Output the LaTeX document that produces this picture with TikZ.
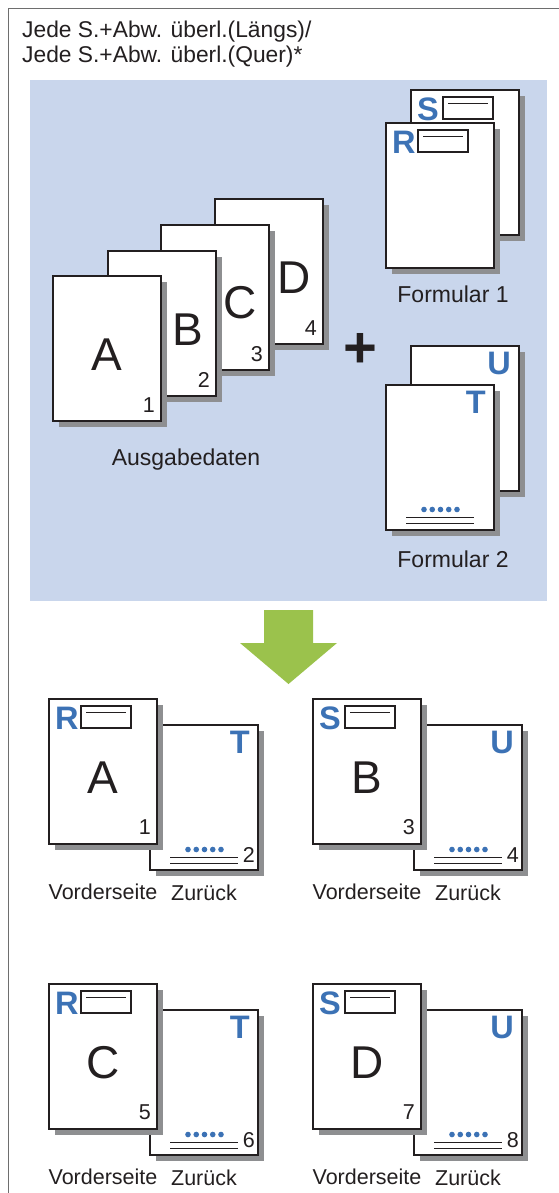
\documentclass[tikz,border=0pt]{standalone}
\usepackage{fontspec}
\setmainfont{Liberation Sans}
\usetikzlibrary{calc,shadows}
\definecolor{panel}{HTML}{C9D6EC}
\definecolor{ink}{HTML}{231F20}
\definecolor{shade}{HTML}{8E8F91}
\definecolor{formblue}{HTML}{3C72B5}
\definecolor{arrowgreen}{HTML}{9BC24C}
\definecolor{framegray}{HTML}{6E6E6E}
\newcommand\lblsize{\fontsize{21.5}{25}\selectfont}
\newcommand\titlesize{\fontsize{22.8}{25}\selectfont}
\newcommand\panelsize{\fontsize{23}{25}\selectfont}
\newcommand\bigsize{\fontsize{46}{50}\selectfont}
\newcommand\blusize{\fontsize{32.5}{36}\selectfont\bfseries}
\tikzset{
  sheet/.style={draw=ink, line width=2pt, fill=white, minimum width=108pt,
    minimum height=145pt, inner sep=0pt, outer sep=0pt, anchor=north west,
    general shadow={fill=shade, shadow xshift=6pt, shadow yshift=-6pt}},
  lbl/.style={font=\lblsize, text=ink, inner sep=0pt},
  bigletter/.style={font=\bigsize, text=ink, inner sep=0pt},
  numtext/.style={font=\lblsize, text=ink, inner sep=0pt, anchor=south east},
  blueletter/.style={font=\blusize, text=formblue, inner sep=0pt},
  hbox/.style={draw=ink, line width=2pt, fill=white, minimum width=50pt,
    minimum height=22pt, inner sep=0pt, outer sep=0pt, anchor=north west},
  thinline/.style={draw=ink, line width=1.6pt},
}
% header (letter + box) on a form page
\newcommand\formhead[2]{%
  \node[blueletter, anchor=north west] (#1-l) at ($(#1.north west)+(6,8)$) {#2};
  \node[hbox] (#1-b) at ($(#1.north west)+(32,7)$) {};
  \draw[thinline] ($(#1-b.north west)+(5,6.5)$) -- ($(#1-b.north east)+(-5,6.5)$);
}
% footer (letter top right + dots + lines)
\newcommand\formfoot[2]{%
  \node[blueletter, anchor=north east] (#1-l) at ($(#1.north east)+(-8,6)$) {#2};
  \foreach \i in {0,...,4}
    \fill[formblue] ($(#1.south west)+(38+8.25*\i,-20.5)$) circle (2.8pt);
  \draw[thinline] ($(#1.south west)+(20,-12.5)$) -- ($(#1.south west)+(88,-12.5)$);
  \draw[thinline] ($(#1.south west)+(20,-6.5)$) -- ($(#1.south west)+(88,-6.5)$);
}
% result pair
\newcommand\resultpair[9]{%
  \node[sheet] (#1b) at (150+#2,725+#3) {};
  \formfoot{#1b}{#7}
  \node[numtext] (#1bn) at ($(#1b.south east)+(-3,-7)$) {#8};
  \node[sheet] (#1f) at (49+#2,699+#3) {};
  \formhead{#1f}{#4}
  \node[bigletter] (#1fl) at ($(#1f.north west)+(54,78.5)$) {#5};
  \node[numtext] (#1fn) at ($(#1f.south east)+(-6,-9)$) {#6};
  \node[lbl, anchor=base] (#1fc) at ($(#1f.south)+(0,55)$) {Vorderseite};
  \node[lbl, anchor=base] (#1bc) at ($(#1b.south)+(0,30)$) {Zurück};
}
\begin{document}
\begin{tikzpicture}[x=1pt, y=-1pt]
\useasboundingbox (0,0) rectangle (559,1193);
% frame
\draw[framegray, line width=1.5pt] (8.5,1193) -- (8.5,8.5) -- (559,8.5);
% title
\node[font=\titlesize, text=ink, inner sep=0pt, anchor=base west] (t1) at (22,38) {Jede S.+Abw. überl.(Längs)/};
\node[font=\titlesize, text=ink, inner sep=0pt, anchor=base west] (t2) at (22,63) {Jede S.+Abw. überl.(Quer)*};
% panel
\fill[panel] (30,80) rectangle (547,601);
% output data stack
\node[sheet] (pD) at (215,199) {};
\node[sheet] (pC) at (161,225) {};
\node[sheet] (pB) at (108,251) {};
\node[sheet] (pA) at (53,276) {};
\node[bigletter] (lD) at ($(pD.north west)+(79,79)$) {D};
\node[bigletter] (lC) at ($(pC.north west)+(79,78)$) {C};
\node[bigletter] (lB) at ($(pB.north west)+(79.5,79)$) {B};
\node[bigletter] (lA) at ($(pA.north west)+(54,79)$) {A};
\node[numtext] (nD) at ($(pD.south east)+(-6,-8)$) {4};
\node[numtext] (nC) at ($(pC.south east)+(-6,-8)$) {3};
\node[numtext] (nB) at ($(pB.south east)+(-6,-8)$) {2};
\node[numtext] (nA) at ($(pA.south east)+(-6,-8)$) {1};
\node[font=\panelsize, text=ink, inner sep=0pt, anchor=base] (cap1) at (186,465) {Ausgabedaten};
% plus
\node[font=\fontsize{58}{60}\selectfont\bfseries, text=ink, inner sep=0pt] (plus) at (360.5,350) {+};
% Formular 1
\node[sheet] (fS) at (411,90) {};
\formhead{fS}{S}
\node[sheet] (fR) at (386,123) {};
\formhead{fR}{R}
\node[font=\panelsize, text=ink, inner sep=0pt, anchor=base] (cap2) at (453,302) {Formular 1};
% Formular 2
\node[sheet] (fU) at (411,346) {};
\formfoot{fU}{U}
\node[sheet] (fT) at (386,385) {};
\formfoot{fT}{T}
\node[font=\panelsize, text=ink, inner sep=0pt, anchor=base] (cap3) at (453,567) {Formular 2};
% arrow
\fill[arrowgreen] (264,610) -- (313,610) -- (313,643) -- (337,643) -- (288.5,684)
  -- (240,643) -- (264,643) -- cycle;
% results
\resultpair{r1}{0}{0}{R}{A}{1}{T}{2}{}
\resultpair{r2}{264}{0}{S}{B}{3}{U}{4}{}
\resultpair{r3}{0}{285}{R}{C}{5}{T}{6}{}
\resultpair{r4}{264}{285}{S}{D}{7}{U}{8}{}
\end{tikzpicture}
\end{document}
